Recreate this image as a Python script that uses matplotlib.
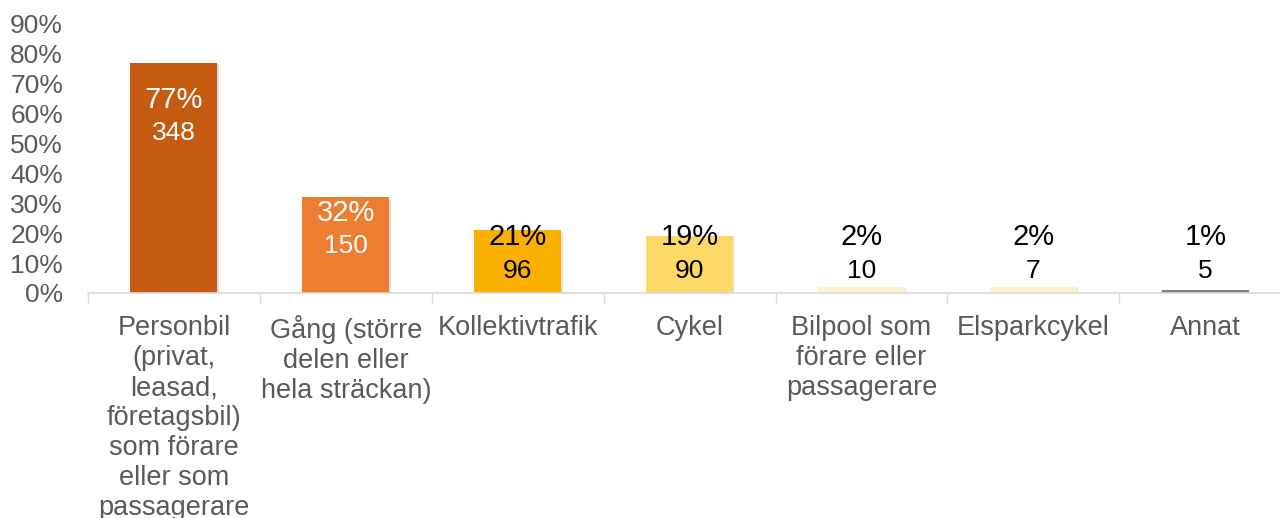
import matplotlib
matplotlib.use("Agg")
import matplotlib.pyplot as plt
import matplotlib.patheffects as pe
import numpy as np

plt.rcParams["font.family"] = ["Liberation Sans", "DejaVu Sans"]

# ── data ────────────────────────────────────────────────────────────────
categories = [
    "Personbil\n(privat,\nleasad,\nföretagsbil)\nsom förare\neller som\npassagerare",
    "Gång (större\ndelen eller\nhela sträckan)",
    "Kollektivtrafik",
    "Cykel",
    "Bilpool som\nförare eller\npassagerare",
    "Elsparkcykel",
    "Annat",
]
percent = [77, 32, 21, 19, 2, 2, 1]
counts = [348, 150, 96, 90, 10, 7, 5]
bar_colors = ["#C55A11", "#ED7D31", "#F9B000", "#FFD966",
              "#FFF2CC", "#FFF2CC", "#7F7F7F"]
label_colors = ["white", "white", "black", "black", "black", "black", "black"]
yticks = list(range(0, 100, 10))

TICK_GRAY = "#595959"
AXIS_GRAY = "#D9D9D9"

fig = plt.figure(figsize=(12.8, 5.18), dpi=100, facecolor="white")
ax = fig.add_axes([0.06875, 0.4344, 0.94, 0.5193])

x = np.arange(len(categories))
bars = ax.bar(x, percent, width=0.506, color=bar_colors, zorder=2)
for b in bars:
    b.set_path_effects([pe.SimplePatchShadow(offset=(1, -1), alpha=0.15),
                        pe.Normal()])

# data labels (percent above count)
for xi, v, n, tc in zip(x, percent, counts, label_colors):
    y_pct = max(0.84 * v, 18.7)
    ax.text(xi, y_pct, f"{v}%", ha="center", va="center",
            color=tc, fontsize=21, zorder=3)
    ax.text(xi, y_pct - 11.3, f"{n}", ha="center", va="center",
            color=tc, fontsize=19, zorder=3)

ax.set_xlim(-0.5, len(categories) - 0.5)
ax.set_ylim(0, 90)
ax.set_yticks(yticks)
ax.set_yticklabels([f"{t}%" for t in yticks], color=TICK_GRAY, fontsize=19)
ax.tick_params(axis="y", length=0, pad=18)

# boundaries as major ticks, category names on minor ticks
ax.set_xticks(np.arange(len(categories) + 1) - 0.5)
ax.set_xticklabels([])
ax.tick_params(axis="x", which="major", length=8, color=AXIS_GRAY, width=1)
ax.set_xticks(x, minor=True)
ax.set_xticklabels(categories, minor=True, color=TICK_GRAY, fontsize=19.5,
                   linespacing=1.2, va="top")
ax.tick_params(axis="x", which="minor", length=0, pad=16)

for side in ("top", "right", "left"):
    ax.spines[side].set_visible(False)
ax.spines["bottom"].set_color(AXIS_GRAY)
ax.spines["bottom"].set_linewidth(1.2)

fig.savefig("out.png", dpi=100, facecolor="white")
